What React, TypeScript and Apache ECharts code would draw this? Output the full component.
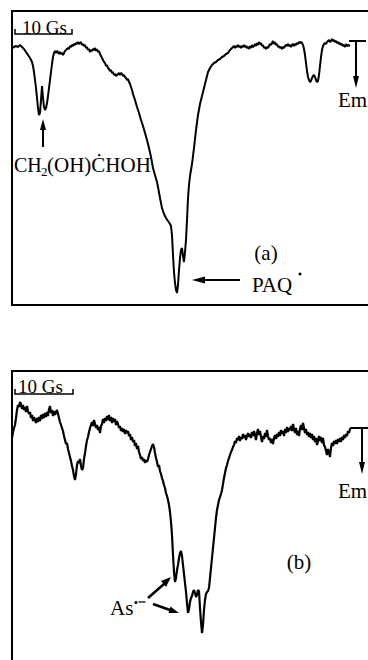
import React, { useEffect, useRef } from "react";
import * as echarts from "echarts";

// Field position (arbitrary units along the sweep) and signal depth (downward = absorption, inverted axis)
const spectrumA: [number, number][] = [
  [12,48],[14,47],[16,46],[18,47],[20,45],[22,47],[24,49],[26,52],[28,55],[30,58],[32,62],[33,66],[34,72],[35,80],[36,88],[37,98],[38,108],[39,115],[40,113],[41,100],[42,86],[43,98],[44,107],[45,110],[46,108],[47,103],[48,96],[49,88],[50,80],[51,72],[52,64],[53,57],[54,53],[55,51],[56,53],[57,51],[58,52],[59,54],[60,52],[61,54],[62,53],[63,55],[64,53],[65,51],[66,50],[67,49],[68,48],[69,49],[70,46],[71,47],[72,45],[73,46],[74,44],[75,45],[76,43],[77,44],[78,42],[79,44],[80,43],[81,42],[82,45],[83,44],[84,46],[85,45],[86,48],[87,47],[88,50],[89,49],[90,52],[91,50],[92,51],[93,49],[94,50],[95,48],[96,51],[97,49],[98,52],[99,51],[100,54],[101,56],[102,58],[103,60],[104,62],[105,63],[106,66],[107,65],[108,68],[109,69],[110,71],[111,70],[112,73],[113,72],[114,75],[115,74],[116,76],[117,75],[118,74],[119,73],[120,75],[121,73],[122,74],[123,76],[124,75],[125,77],[126,78],[127,80],[128,79],[129,82],[130,84],[131,87],[132,90],[133,94],[135,100],[137,107],[139,113],[141,120],[143,126],[145,133],[147,140],[149,148],[151,157],[153,168],[155,175],[157,182],[158,187],[160,198],[162,208],[164,214],[166,218],[168,221],[170,224],[171,226],[172,235],[173,255],[174,272],[175,283],[176,290],[177,293],[178,285],[179,270],[180,258],[181,250],[182,248],[183,256],[184,262],[185,252],[186,240],[187,220],[188,198],[189,185],[190,176],[192,164],[194,148],[196,130],[198,115],[200,104],[202,96],[204,88],[206,80],[208,72],[210,68],[212,65],[214,63],[216,62],[218,60],[220,59],[222,57],[224,56],[226,54],[228,53],[230,50],[232,48],[233,47],[234,46],[235,48],[236,46],[237,47],[238,45],[239,47],[240,46],[241,48],[242,46],[243,47],[244,45],[245,47],[246,46],[247,48],[248,47],[249,49],[250,46],[251,48],[252,45],[253,47],[254,46],[255,44],[256,46],[257,43],[258,45],[259,42],[260,44],[261,43],[262,46],[263,45],[264,48],[265,47],[266,49],[267,47],[268,48],[269,46],[270,44],[271,45],[272,43],[273,41],[274,44],[275,42],[276,45],[277,44],[278,47],[279,46],[280,48],[281,47],[282,49],[283,47],[284,48],[285,46],[286,45],[287,46],[288,44],[289,46],[290,45],[291,47],[292,45],[293,44],[294,46],[295,44],[296,45],[297,43],[298,44],[299,42],[300,43],[301,42],[302,43],[303,45],[304,49],[305,55],[306,63],[307,71],[308,77],[309,80],[310,82],[311,81],[312,78],[313,76],[314,75],[315,77],[316,80],[317,82],[318,81],[319,75],[320,66],[321,57],[322,50],[323,46],[324,44],[325,43],[326,44],[327,42],[328,41],[329,40],[330,42],[331,41],[332,39],[333,41],[334,40],[335,42],[336,41],[337,43],[338,42],[339,44],[340,43],[341,45],[342,44],[343,46],[344,45],[345,47],[346,44],[347,46],[348,45],[350,46]
];

const spectrumB: [number, number][] = [
  [12,438],[13,432],[14,428],[15,425],[16,418],[17,410],[18,405],[19,407],[20,402],[21,404],[22,409],[23,405],[24,410],[25,407],[26,412],[27,406],[28,411],[29,414],[30,412],[31,418],[32,415],[33,421],[34,417],[35,420],[36,423],[37,418],[38,422],[39,417],[40,421],[41,415],[42,419],[43,414],[44,418],[45,413],[46,417],[47,412],[48,416],[49,409],[50,406],[51,413],[52,410],[53,416],[54,411],[55,415],[56,412],[57,410],[58,414],[59,418],[60,422],[61,425],[62,428],[63,431],[64,436],[65,440],[66,444],[67,443],[68,449],[69,453],[70,457],[71,461],[72,466],[73,470],[74,476],[75,480],[76,474],[77,465],[78,461],[79,463],[80,459],[81,466],[82,470],[83,468],[84,459],[85,453],[86,446],[87,440],[88,437],[89,432],[90,428],[91,425],[92,422],[93,426],[94,420],[95,424],[96,428],[97,425],[98,430],[99,427],[100,433],[101,426],[102,424],[103,419],[104,423],[105,418],[106,421],[107,416],[108,420],[109,415],[110,421],[111,417],[112,423],[113,418],[114,422],[115,419],[116,425],[117,421],[118,424],[119,428],[120,426],[121,431],[122,428],[123,432],[124,429],[125,434],[126,430],[127,433],[128,431],[129,436],[130,434],[131,440],[132,437],[133,442],[134,440],[135,446],[136,443],[137,449],[138,446],[139,452],[140,455],[141,459],[142,457],[143,461],[144,459],[145,463],[146,460],[147,462],[148,459],[149,455],[150,452],[151,449],[152,446],[153,444],[154,447],[155,453],[156,458],[157,462],[158,467],[159,465],[160,471],[161,474],[162,478],[163,481],[164,485],[165,488],[166,493],[167,496],[168,500],[169,505],[170,512],[171,522],[172,535],[173,555],[174,572],[175,582],[176,578],[177,570],[178,565],[179,558],[180,553],[181,551],[182,556],[183,565],[184,574],[185,583],[186,592],[187,603],[188,613],[189,609],[190,602],[191,598],[192,596],[193,592],[194,590],[195,593],[196,597],[197,595],[198,590],[199,591],[200,608],[201,622],[202,633],[203,625],[204,610],[205,600],[206,594],[207,592],[208,591],[209,588],[210,578],[211,568],[212,558],[213,548],[214,538],[215,528],[216,518],[217,510],[218,505],[219,500],[220,497],[221,494],[222,490],[223,484],[224,478],[225,473],[226,468],[227,465],[228,461],[229,458],[230,455],[231,452],[232,450],[233,447],[234,445],[235,441],[236,443],[237,438],[238,440],[239,436],[240,441],[241,437],[242,439],[243,434],[244,438],[245,435],[246,440],[247,436],[248,433],[249,437],[250,434],[251,438],[252,432],[253,436],[254,431],[255,435],[256,440],[257,433],[258,429],[259,435],[260,431],[261,437],[262,442],[263,436],[264,439],[265,433],[266,437],[267,430],[268,436],[269,440],[270,438],[271,443],[272,439],[273,444],[274,438],[275,435],[276,439],[277,434],[278,437],[279,432],[280,436],[281,430],[282,434],[283,431],[284,436],[285,429],[286,433],[287,427],[288,432],[289,428],[290,430],[291,426],[292,431],[293,424],[294,429],[295,433],[296,428],[297,435],[298,431],[299,436],[300,429],[301,425],[302,430],[303,423],[304,428],[305,433],[306,429],[307,435],[308,432],[309,437],[310,433],[311,438],[312,434],[313,440],[314,436],[315,442],[316,438],[317,445],[318,441],[319,436],[320,441],[321,437],[322,443],[323,438],[324,445],[325,447],[326,451],[327,455],[328,449],[329,452],[330,457],[331,448],[332,443],[333,446],[334,441],[335,444],[336,440],[337,444],[338,439],[339,442],[340,438],[341,442],[342,437],[343,440],[344,435],[345,438],[346,434],[347,436],[348,431],[349,433],[350,429],[351,428],[352,428]
];

const labelsA = ["10 Gs", "CH", "2", "(OH)ĊHOH", "(a)", "PAQ", "Em"];
const labelsB = ["10 Gs", "(b)", "As", "Em"];

const FONT = '"Liberation Serif", "Times New Roman", serif';

function txt(x: number, y: number, text: string, size: number, align = "left") {
  return {
    type: "text",
    x,
    y,
    silent: true,
    style: {
      text,
      font: `${size}px ${FONT}`,
      fill: "#000",
      align,
      verticalAlign: "middle",
      textAlign: align,
      textVerticalAlign: "middle",
    },
  };
}
function ln(x1: number, y1: number, x2: number, y2: number, w = 2) {
  return { type: "line", silent: true, shape: { x1, y1, x2, y2 }, style: { stroke: "#000", lineWidth: w } };
}
function poly(points: number[][]) {
  return { type: "polygon", silent: true, shape: { points }, style: { fill: "#000" } };
}

export default function App() {
  const ref = useRef<HTMLDivElement>(null);
  useEffect(() => {
    document.body.style.margin = "0";
    document.body.style.overflow = "hidden";
    const chart = echarts.init(ref.current!, null, { renderer: "svg" });
    const graphic: any[] = [
      // panel (a)
      txt(22, 27, labelsA[0], 19),
      { type: "polyline", silent: true, shape: { points: [[15, 29], [15, 34], [72, 34], [72, 29]] }, style: { stroke: "#000", lineWidth: 1.5, fill: null } },
      ln(43, 128, 43, 147, 2),
      poly([[43, 119], [40, 130], [46, 130]]),
      txt(14, 165, labelsA[1], 20),
      txt(41, 171, labelsA[2], 13),
      txt(47, 165, labelsA[3], 21),
      txt(266, 253, labelsA[4], 21, "center"),
      ln(202, 280, 240, 280, 2),
      poly([[192, 280], [205, 276.5], [205, 283.5]]),
      txt(252, 285, labelsA[5], 21),
      { type: "circle", silent: true, shape: { cx: 300, cy: 274, r: 1.5 }, style: { fill: "#000" } },
      ln(349, 41, 366, 41, 2),
      ln(356, 41, 356, 78, 2),
      poly([[356, 88], [353, 76], [359, 76]]),
      txt(338, 100, labelsA[6], 21),
      // panel (b)
      txt(18, 386, labelsB[0], 19),
      { type: "polyline", silent: true, shape: { points: [[15, 389], [15, 394], [73, 394], [73, 389]] }, style: { stroke: "#000", lineWidth: 1.5, fill: null } },
      txt(299, 562, labelsB[1], 21, "center"),
      txt(110, 608, labelsB[2], 21),
      { type: "circle", silent: true, shape: { cx: 136, cy: 602.5, r: 1.5 }, style: { fill: "#000" } },
      ln(138.5, 602, 145.5, 602, 1.3),
      ln(148, 598, 164, 584, 2.5),
      poly([[171, 577], [166, 587], [161, 581]]),
      ln(153, 604, 170, 610, 2.5),
      poly([[179, 613], [168.5, 613], [170.5, 606.5]]),
      ln(352, 428, 369, 428, 2),
      ln(362, 428, 362, 464, 2),
      poly([[362, 474], [359, 462], [365, 462]]),
      txt(338, 491, labelsB[3], 21),
    ];
    chart.setOption({
      animation: false,
      backgroundColor: "#fff",
      grid: [
        { left: 12, top: 11, width: 370, height: 294, show: true, borderColor: "#000", borderWidth: 2, backgroundColor: "transparent" },
        { left: 12, top: 371, width: 370, height: 300, show: true, borderColor: "#000", borderWidth: 2, backgroundColor: "transparent" },
      ],
      xAxis: [
        { type: "value", gridIndex: 0, min: 12, max: 382, show: false },
        { type: "value", gridIndex: 1, min: 12, max: 382, show: false },
      ],
      yAxis: [
        { type: "value", gridIndex: 0, min: 11, max: 305, inverse: true, show: false },
        { type: "value", gridIndex: 1, min: 371, max: 671, inverse: true, show: false },
      ],
      series: [
        { type: "line", xAxisIndex: 0, yAxisIndex: 0, data: spectrumA, showSymbol: false, symbol: "none", lineStyle: { color: "#000", width: 2 }, silent: true },
        { type: "line", xAxisIndex: 1, yAxisIndex: 1, data: spectrumB, showSymbol: false, symbol: "none", lineStyle: { color: "#000", width: 2.2 }, silent: true },
      ],
      graphic,
    });
    return () => chart.dispose();
  }, []);
  return <div ref={ref} style={{ position: "absolute", left: 0, top: 0, width: 400, height: 700, background: "#fff" }} />;
}
